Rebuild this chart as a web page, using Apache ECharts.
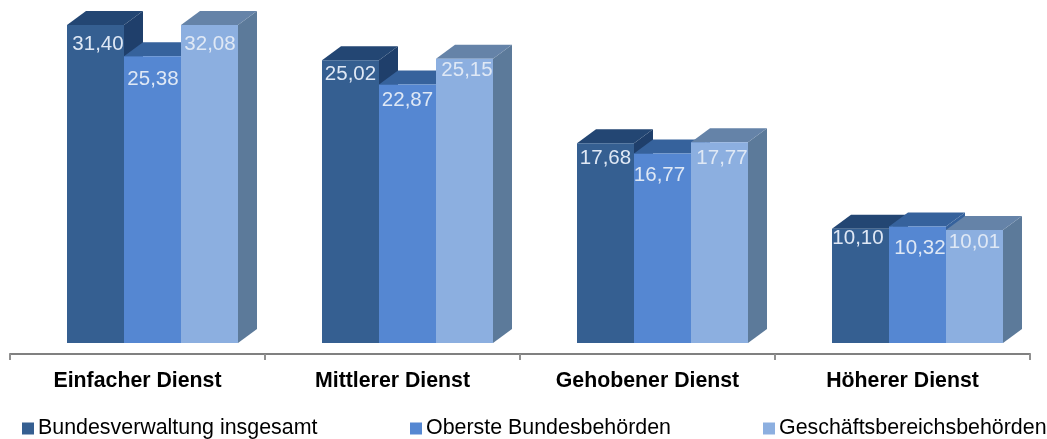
<!DOCTYPE html>
<html><head><meta charset="utf-8">
<style>html,body{margin:0;padding:0;background:#fff}#c{width:1047px;height:439px}</style>
<script src="https://cdn.jsdelivr.net/npm/echarts@6/dist/echarts.min.js"></script>
</head><body><div id="c"></div>
<script>
const categories = ['Einfacher Dienst','Mittlerer Dienst','Gehobener Dienst','Höherer Dienst'];
const gesamt = [31.40,25.02,17.68,10.10];
const oberste = [25.38,22.87,16.77,10.32];
const geschaeft = [32.08,25.15,17.77,10.01];
const seriesNames = ['Bundesverwaltung insgesamt','Oberste Bundesbehörden','Geschäftsbereichsbehörden'];
const seriesValues = [gesamt, oberste, geschaeft];

const axisMax = 28.14;            // the source chart's axis stops here; taller bars are cut off
const palette = [
  {front:'#355f91', top:'#234673', side:'#1f3f6b'},
  {front:'#5587d2', top:'#36629c', side:'#36629c'},
  {front:'#8cafe0', top:'#6583a8', side:'#5c7a9a'}
];
const barW = 57, depthX = 19, depthY = 14, frontShift = 15;
const labelDrop = [[19,14,15,9],[23,16,22,22],[19,12,16,12]];
const labelNudgeX = [[2.5,0,0,-2.5],[0.5,0,-3,2.5],[0.5,2.5,2.5,0]];
const legendLeft = [22,410,763];
const font = 'Liberation Sans, Arial, sans-serif';

function renderItem(params, api){
  const s = params.seriesIndex, i = api.value(0), v = api.value(1);
  const base = api.coord([i, 0]);
  const top = api.coord([i, Math.min(v, axisMax)]);
  const x0 = base[0] + frontShift + (s - 1.5) * barW;
  const x1 = x0 + barW, y0 = base[1], y1 = top[1];
  const c = palette[s];
  const poly = (pts, fill) => ({type:'polygon', shape:{points:pts}, style:{fill}});
  return {type:'group', children:[
    poly([[x1,y0],[x1+depthX,y0-depthY],[x1+depthX,y1-depthY],[x1,y1]], c.side),
    poly([[x0,y1],[x0+depthX,y1-depthY],[x1+depthX,y1-depthY],[x1,y1]], c.top),
    poly([[x0,y0],[x1,y0],[x1,y1],[x0,y1]], c.front),
    {type:'text', z2:100, style:{
      text: v.toFixed(2).replace('.',','), x:(x0+x1)/2+labelNudgeX[s][i], y:y1+labelDrop[s][i],
      align:'center', verticalAlign:'middle', fill:'#dfe8f5',
      font:'20.5px '+font
    }}
  ]};
}

const chart = echarts.init(document.getElementById('c'), null, {renderer:'canvas'});
chart.setOption({
  animation:false,
  backgroundColor:'#fff',
  grid:{left:10,right:17,top:25,bottom:96},
  xAxis:{type:'category',data:categories,offset:11,
    axisLine:{onZero:false,lineStyle:{color:'#808080',width:2}},
    axisTick:{show:true,length:6,alignWithLabel:false,lineStyle:{color:'#909090',width:2}},
    axisLabel:{color:'#000',fontFamily:font,fontWeight:'bold',fontSize:21.3,margin:17}},
  yAxis:{type:'value',min:0,max:axisMax,show:false,splitLine:{show:false}},
  legend:seriesNames.map((name,k)=>({
    left:legendLeft[k],top:418,itemWidth:12,itemHeight:12,icon:'rect',padding:0,
    textStyle:{color:'#000',fontFamily:font,fontSize:21.4,padding:[0,0,0,-1]},
    data:[name]
  })),
  series:seriesValues.map((vals,s)=>({
    name:seriesNames[s],type:'custom',renderItem,clip:false,
    itemStyle:{color:palette[s].front},
    encode:{x:0,y:1},
    data:vals.map((v,i)=>[i,v])
  }))
});
</script></body></html>
